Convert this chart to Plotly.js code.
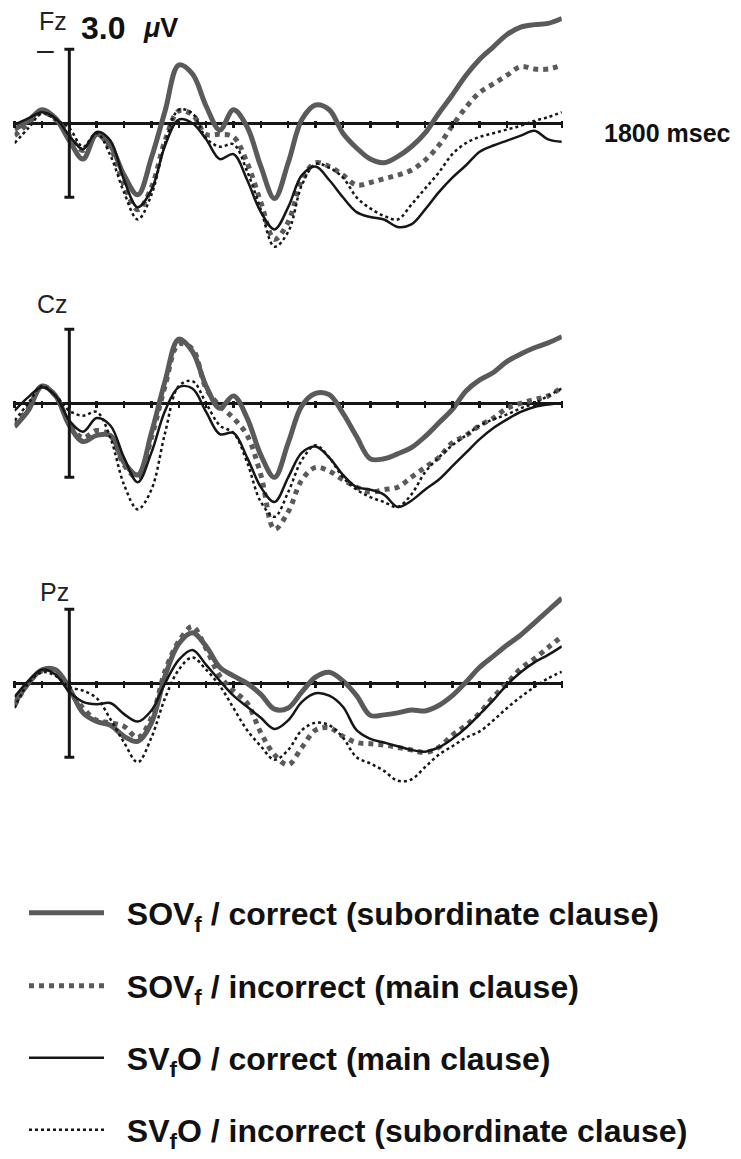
<!DOCTYPE html>
<html><head><meta charset="utf-8">
<script src="https://cdn.plot.ly/plotly-3.0.1.min.js"></script>
<style>html,body{margin:0;padding:0;background:#fff}#chart{width:741px;height:1159px}</style>
</head><body><div id="chart"></div>
<script>
// time axis (ms)
const timeMs = [-200,-150,-100,-50,0,50,100,150,200,250,300,350,400,450,500,550,600,650,700,750,800,850,900,950,1000,1050,1100,1150,1200,1250,1300,1350,1400,1450,1500,1550,1600,1650,1700,1750,1800];

// amplitudes in microvolts (negative plotted up)
const fzSOVfCorrect   = [0.25,-0.1,-0.55,-0.2,0.7,1.45,0.45,0.9,2.1,2.9,1.4,-0.5,-2.36,-2.0,-0.7,0.27,-0.55,0.15,1.75,3.05,1.6,-0.15,-0.74,-0.55,0.4,1.0,1.45,1.6,1.35,0.95,0.4,-0.4,-1.15,-1.95,-2.6,-3.1,-3.6,-3.9,-4.0,-4.05,-4.25];
const fzSOVfIncorrect = [0.5,0.0,-0.45,-0.15,0.5,1.1,0.45,1.0,2.5,3.5,2.6,0.7,-0.5,-0.35,0.45,0.45,0.55,1.6,3.2,4.7,4.0,2.3,1.6,1.75,2.1,2.5,2.4,2.25,2.1,1.9,1.5,0.9,0.1,-0.65,-1.25,-1.6,-1.95,-2.3,-2.2,-2.2,-2.35];
const fzSVfOCorrect   = [0.05,-0.2,-0.45,-0.2,0.5,1.05,0.35,0.7,2.3,3.4,2.7,0.9,-0.15,0.0,0.65,1.45,1.25,2.3,3.6,4.3,3.4,2.1,1.75,2.3,3.0,3.6,3.8,3.9,4.2,4.1,3.5,2.8,2.2,1.7,1.15,0.9,0.7,0.5,0.3,0.65,0.75];
const fzSVfOIncorrect = [0.8,0.2,-0.4,-0.15,0.2,0.95,0.4,1.3,2.8,3.9,2.9,0.8,-0.55,-0.4,0.6,0.95,0.85,1.95,3.5,5.0,4.4,2.5,1.65,1.8,2.2,3.0,3.45,3.75,3.9,3.3,2.65,2.0,1.25,0.8,0.55,0.4,0.25,0.1,-0.1,-0.25,-0.45];

const czSOVfCorrect   = [0.95,0.3,-0.7,-0.3,0.9,1.55,1.3,1.3,2.4,2.9,1.2,-0.9,-2.6,-2.1,-0.7,0.2,-0.3,0.6,2.1,3.0,1.6,0.1,-0.4,-0.35,0.4,1.35,2.25,2.25,2.05,1.8,1.35,0.8,0.25,-0.5,-0.95,-1.25,-1.7,-2.0,-2.25,-2.45,-2.7];
const czSOVfIncorrect = [0.9,0.2,-0.7,-0.3,0.8,1.4,1.1,1.3,2.5,3.0,1.4,-0.7,-2.4,-2.2,-0.6,0.1,0.6,1.3,2.9,5.1,4.4,3.1,2.6,2.75,3.1,3.4,3.6,3.5,3.4,3.0,2.6,2.2,1.6,1.3,0.9,0.6,0.2,0.0,-0.15,-0.3,-0.65];
const czSVfOCorrect   = [0.3,-0.25,-0.65,-0.3,0.7,1.15,0.6,0.9,2.2,3.2,2.0,0.3,-0.65,-0.6,0.35,1.25,1.2,2.2,3.4,4.0,3.0,2.0,1.75,2.2,2.9,3.4,3.5,3.7,4.2,3.95,3.5,3.1,2.55,2.0,1.45,1.0,0.65,0.35,0.15,0.05,0.0];
const czSVfOIncorrect = [0.7,0.0,-0.7,-0.3,0.3,0.5,0.35,1.4,3.3,4.3,3.5,1.2,-0.7,-0.9,0.0,0.9,1.2,2.4,4.0,4.6,3.6,2.3,1.7,2.2,3.0,3.5,3.8,4.0,4.2,3.7,2.8,2.2,1.7,1.3,0.9,0.65,0.45,0.2,0.0,-0.3,-0.6];

const pzSOVfCorrect   = [0.8,0.0,-0.55,-0.55,0.2,1.2,1.55,1.7,2.15,2.35,1.6,-0.3,-1.6,-2.05,-1.5,-0.65,-0.3,0.0,0.45,1.05,1.0,0.35,-0.25,-0.45,-0.1,0.5,1.3,1.28,1.2,1.08,1.12,0.9,0.5,-0.05,-0.65,-1.1,-1.55,-1.96,-2.45,-2.95,-3.45];
const pzSOVfIncorrect = [0.9,0.0,-0.5,-0.5,0.3,1.0,1.5,1.6,1.75,2.2,1.4,-0.5,-1.7,-2.3,-1.4,-0.3,0.3,0.8,2.0,2.9,3.3,2.6,1.9,1.8,2.15,2.4,2.45,2.5,2.6,2.7,2.8,2.6,2.1,1.7,1.2,0.55,0.0,-0.6,-1.0,-1.45,-1.9];
const pzSVfOCorrect   = [0.55,-0.1,-0.55,-0.35,0.35,0.75,0.85,0.8,1.25,1.55,1.1,0.0,-0.95,-1.35,-0.75,-0.1,0.5,0.95,1.4,1.85,1.5,0.75,0.4,0.5,0.95,1.9,2.25,2.4,2.55,2.7,2.77,2.6,2.25,1.8,1.25,0.68,0.05,-0.45,-0.85,-1.15,-1.5];
const pzSVfOIncorrect = [1.0,0.0,-0.45,-0.3,0.15,0.3,0.6,1.45,2.4,3.2,2.2,0.6,-0.55,-1.05,-0.55,0.1,1.0,1.9,2.55,3.1,2.7,1.9,1.6,1.7,2.2,3.0,3.25,3.55,3.95,3.9,3.4,2.9,2.55,2.2,1.95,1.5,1.0,0.55,0.15,-0.2,-0.47];

const electrodes = ['Fz','Cz','Pz'];
const conditionNames = [
  'SOV<sub>f</sub> / correct (subordinate clause)',
  'SOV<sub>f</sub> / incorrect (main clause)',
  'SV<sub>f</sub>O / correct (main clause)',
  'SV<sub>f</sub>O / incorrect (subordinate clause)'
];
const panelData = [
  [fzSOVfCorrect, fzSOVfIncorrect, fzSVfOCorrect, fzSVfOIncorrect],
  [czSOVfCorrect, czSOVfIncorrect, czSVfOCorrect, czSVfOIncorrect],
  [pzSOVfCorrect, pzSOVfIncorrect, pzSVfOCorrect, pzSVfOIncorrect]
];
const scaleBar = 3.0;

// ---- styling / layout geometry ----
const W = 741, H = 1159;
const GRAY = '#5a5a5a', BLACK = '#161616';
const lineStyles = [
  {color: GRAY, width: 5, dash: 'solid'},
  {color: GRAY, width: 5, dash: '5px,5px'},
  {color: BLACK, width: 2.5, dash: 'solid'},
  {color: BLACK, width: 2.5, dash: '3px,3px'}
];
const pxPerUV = 24.67;
const panelTop = [0, 280, 560];
const panelZero = [123.3, 403.3, 683.3];
const panelH = 275;
const xLeftPx = 14.6, xRightPx = 561.8;
const legendY = [913, 986, 1058, 1130];
const NB = '\u00a0\u00a0';

const traces = [];
const layout = {
  width: W, height: H,
  margin: {l: 0, r: 0, t: 0, b: 0},
  paper_bgcolor: '#fff', plot_bgcolor: 'rgba(0,0,0,0)',
  showlegend: true,
  shapes: [], annotations: []
};

panelData.forEach((series, p) => {
  const sfx = p === 0 ? '' : String(p + 1);
  series.forEach((vals, c) => {
    const tr = {
      type: 'scatter', mode: 'lines',
      x: timeMs, y: vals,
      xaxis: 'x' + sfx, yaxis: 'y' + sfx,
      name: NB + conditionNames[c],
      line: {color: lineStyles[c].color, width: lineStyles[c].width, dash: lineStyles[c].dash, shape: 'spline', smoothing: 1},
      showlegend: p === 0,
      hoverinfo: 'skip'
    };
    if (p === 0) tr.legend = c === 0 ? 'legend' : 'legend' + (c + 1);
    traces.push(tr);
  });
  const top = panelTop[p], zero = panelZero[p];
  layout['yaxis' + sfx] = {
    domain: [1 - (top + panelH) / H, 1 - top / H],
    range: [(top + panelH - zero) / pxPerUV, -(zero - top) / pxPerUV],
    autorange: false, anchor: 'x' + sfx,
    showline: false, showticklabels: false, ticks: '', showgrid: false,
    zeroline: true, zerolinecolor: BLACK, zerolinewidth: 3, fixedrange: true
  };
  layout['xaxis' + sfx] = {
    domain: [xLeftPx / W, xRightPx / W],
    range: [timeMs[0], timeMs[timeMs.length - 1]],
    autorange: false, anchor: 'free',
    position: 1 - (zero - 3.5) / H,
    showline: false, showgrid: false, zeroline: false, showticklabels: false,
    ticks: 'outside', ticklen: 7, tickwidth: 2.5, tickcolor: BLACK,
    tickmode: 'linear', tick0: timeMs[0], dtick: 100, fixedrange: true
  };
  // vertical calibration bar
  const xr = 'x' + sfx, yr = 'y' + sfx;
  layout.shapes.push({type: 'line', xref: xr, yref: yr, x0: 0, x1: 0, y0: -scaleBar, y1: scaleBar, line: {color: BLACK, width: 3}});
  layout.shapes.push({type: 'line', xref: xr, yref: yr, x0: -18, x1: 18, y0: -scaleBar, y1: -scaleBar, line: {color: BLACK, width: 3}});
  layout.shapes.push({type: 'line', xref: xr, yref: yr, x0: -18, x1: 18, y0: scaleBar, y1: scaleBar, line: {color: BLACK, width: 3}});
});

const labelY = [21, 304, 592];
const labelX = [37, 35, 38];
electrodes.forEach((e, i) => {
  layout.annotations.push({text: e, xref: 'paper', yref: 'paper', x: labelX[i] / W, y: 1 - labelY[i] / H,
    xanchor: 'left', yanchor: 'middle', showarrow: false,
    font: {family: 'Liberation Sans, Arial, sans-serif', size: 25, color: '#222'}});
});
layout.annotations.push({text: '\u2013', xref: 'paper', yref: 'paper', x: 45 / W, y: 1 - 49 / H,
  xanchor: 'center', yanchor: 'middle', showarrow: false,
  font: {family: 'Liberation Sans, Arial, sans-serif', size: 30, color: '#222'}});
layout.annotations.push({text: '<b>' + scaleBar.toFixed(1) + '</b>', xref: 'paper', yref: 'paper', x: 79 / W, y: 1 - 28 / H,
  xanchor: 'left', yanchor: 'middle', showarrow: false,
  font: {family: 'Liberation Sans, Arial, sans-serif', size: 32, color: '#111'}});
layout.annotations.push({text: '<b><i>\u03bc</i>V</b>', xref: 'paper', yref: 'paper', x: 141 / W, y: 1 - 28 / H,
  xanchor: 'left', yanchor: 'middle', showarrow: false,
  font: {family: 'Liberation Sans, Arial, sans-serif', size: 27, color: '#111'}});
layout.annotations.push({text: '<b>' + timeMs[timeMs.length - 1] + ' msec</b>', xref: 'paper', yref: 'paper', x: 602 / W, y: 1 - 133 / H,
  xanchor: 'left', yanchor: 'middle', showarrow: false,
  font: {family: 'Liberation Sans, Arial, sans-serif', size: 25, color: '#111'}});

legendY.forEach((ly, i) => {
  layout[i === 0 ? 'legend' : 'legend' + (i + 1)] = {
    x: 24 / W, y: 1 - ly / H, xanchor: 'left', yanchor: 'middle',
    bgcolor: 'rgba(0,0,0,0)', borderwidth: 0, itemwidth: 75,
    font: {family: 'Liberation Sans, Arial, sans-serif', size: 32, color: '#111', weight: 'bold'}
  };
});

Plotly.newPlot('chart', traces, layout, {staticPlot: true, displayModeBar: false});
</script></body></html>
